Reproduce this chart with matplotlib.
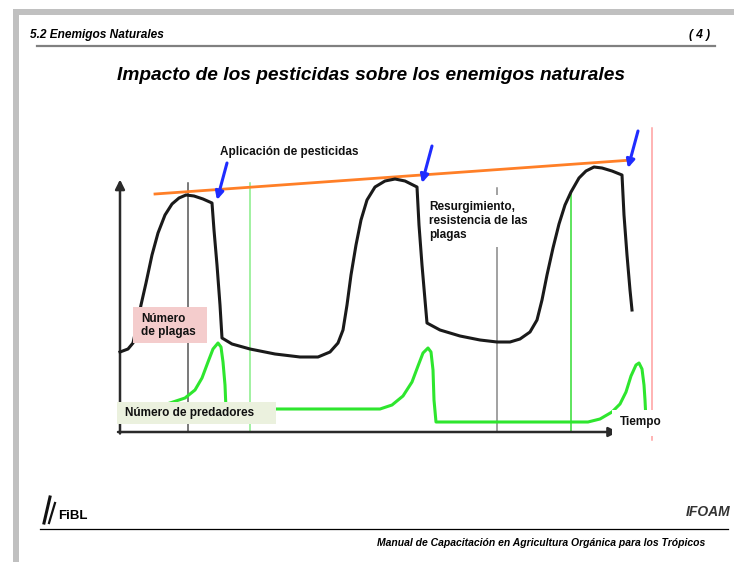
import matplotlib.pyplot as plt
from matplotlib.patches import Rectangle

plt.rcParams['font.family'] = ['Liberation Sans', 'DejaVu Sans']

# curva del numero de plagas (tiempo, numero)
plagas_t = [0, 1.6, 2.6, 3.4, 4.2, 5.2, 6.4, 7.6, 9.0, 10.4, 11.8, 13.2, 14.8, 16.6, 18.4,
            18.8, 19.4, 20.0, 20.4, 22.4, 26.0, 31.0, 36.0, 39.6, 42.0, 43.6, 44.6, 45.4,
            46.2, 47.2, 48.2, 49.4, 51.0, 53.0, 55.0, 57.0, 59.4, 59.8, 60.4, 61.0, 61.4,
            64.0, 68.0, 72.0, 75.4, 78.0, 80.0, 82.0, 83.4, 84.4, 85.4, 86.6, 87.8, 89.0,
            90.2, 91.8, 93.2, 94.8, 96.4, 98.4, 100.4, 100.8, 101.4, 102.0, 102.4]
plagas_n = [32.0, 33.2, 35.6, 42.8, 50.8, 59.6, 70.8, 79.6, 86.8, 91.2, 93.6, 94.8, 94.4, 93.2, 91.6,
            80.8, 66.8, 50.8, 37.6, 35.2, 33.2, 31.2, 30.0, 30.0, 32.0, 35.6, 40.8, 50.8,
            62.8, 74.8, 84.8, 92.8, 98.0, 100.4, 101.2, 100.4, 98.0, 82.8, 66.8, 52.8, 43.6,
            40.8, 38.4, 36.8, 36.0, 36.0, 37.2, 40.0, 44.8, 52.8, 62.8, 73.6, 83.2, 90.8,
            96.0, 101.6, 104.4, 106.0, 105.6, 104.4, 102.8, 86.8, 70.8, 56.8, 48.8]

# curva del numero de predadores
pred_t = [0, 6.0, 10.0, 13.0, 15.0, 16.4, 17.6, 18.6, 19.6, 20.2, 20.6, 21.0, 21.2,
          52.0, 54.4, 56.6, 58.4, 59.6, 60.6, 61.6, 62.2, 62.6, 62.8, 63.2,
          93.6, 96.0, 98.4, 100.0, 101.2, 102.2, 103.2, 103.8, 104.4, 104.8, 105.0, 105.2]
pred_n = [8.0, 9.2, 11.6, 13.6, 16.8, 21.6, 28.0, 33.2, 35.6, 34.0, 28.0, 18.8, 9.2,
          9.2, 10.8, 14.4, 20.0, 26.4, 31.6, 33.6, 32.0, 24.8, 12.8, 4.0,
          4.0, 5.2, 8.0, 11.2, 16.0, 22.4, 26.8, 27.6, 25.2, 18.8, 12.8, 4.8]

# aplicaciones de pesticidas y tendencia de los picos
aplic_t = [19.4, 60.4, 101.6]
aplic_n = [92.8, 99.6, 105.6]
tendencia_t = [7.0, 102.4]
tendencia_n = [95.2, 108.8]

# lineas verticales de referencia
marcas_t = [13.6, 26.0, 75.4, 90.2, 106.4]
marcas_tope = [99.6, 99.6, 97.6, 96.0, 121.6]
marcas_base = [0, 0, 0, 0, -3.2]
marcas_color = ['#555555', '#88ee88', '#888888', '#33dd33', '#ff9f9f']

W, H = 734, 562
fig = plt.figure(figsize=(W / 100, H / 100), dpi=100)

# fondo de la diapositiva en pixeles
bg = fig.add_axes([0, 0, 1, 1])
bg.set_xlim(0, W)
bg.set_ylim(H, 0)
bg.axis('off')
bg.add_patch(Rectangle((13, 9), W - 13, 6, fc='#c0c0c0', ec='none'))
bg.add_patch(Rectangle((13, 9), 6, H - 9, fc='#c0c0c0', ec='none'))
bg.plot([37, 715], [46, 46], color='#808080', lw=1.6)
bg.text(30, 35, '5.2 Enemigos Naturales', fontsize=8.6, fontweight='bold', style='italic', va='center')
bg.text(710, 35, '( 4 )', fontsize=8.6, fontweight='bold', style='italic', va='center', ha='right')
bg.text(371, 75, 'Impacto de los pesticidas sobre los enemigos naturales', fontsize=13.8,
        fontweight='bold', style='italic', ha='center', va='center')
bg.plot([40, 728], [529, 529], color='black', lw=0.9)
bg.text(705, 543, 'Manual de Capacitación en Agricultura Orgánica para los Trópicos', fontsize=7.5,
        fontweight='bold', style='italic', ha='right', va='center')
# logos
bg.plot([44, 50], [523, 497], color='#111111', lw=2.2)
bg.plot([49, 55], [523, 503], color='#111111', lw=1.6)
bg.text(58, 516, 'FiBL', fontsize=9.5, fontweight='bold', va='center')
bg.text(730, 512, 'IFOAM', fontsize=10, fontweight='bold', style='italic', va='center', ha='right',
        color='#333333')

# grafico
x0, x1, y0, y1 = 110, 670, 445, 115
cx = fig.add_axes([x0 / W, 1 - y0 / H, (x1 - x0) / W, (y0 - y1) / H])
cx.set_xlim((x0 - 120) / 5, (x1 - 120) / 5)
cx.set_ylim((432 - y0) / 2.5, (432 - y1) / 2.5)
cx.axis('off')
cx.patch.set_alpha(0)

for t, top, base, c in zip(marcas_t, marcas_tope, marcas_base, marcas_color):
    cx.plot([t, t], [base, top], color=c, lw=1.1, zorder=1)

arrow_kw = dict(arrowstyle='-|>', color='#2a2a2a', lw=1.8, mutation_scale=14, shrinkA=0, shrinkB=0)
cx.annotate('', xy=(0, 101), xytext=(0, -0.6), arrowprops=arrow_kw, zorder=3)
cx.annotate('', xy=(99.6, 0), xytext=(-0.4, 0), arrowprops=arrow_kw, zorder=3)

cx.plot(tendencia_t, tendencia_n, color='#ff7f27', lw=2.0, zorder=2)
cx.plot(plagas_t, plagas_n, color='#1a1a1a', lw=2.2, solid_joinstyle='round', zorder=3)
cx.plot(pred_t, pred_n, color='#2ee62e', lw=2.2, solid_joinstyle='round', zorder=3)

for t, n in zip(aplic_t, aplic_n):
    cx.annotate('', xy=(t, n), xytext=(t + 2.0, n + 14.8),
                arrowprops=dict(arrowstyle='-|>', color='#1f2cff', lw=2.2, mutation_scale=12,
                                shrinkA=0, shrinkB=0), zorder=4)

lab = dict(fontsize=8.5, fontweight='bold', color='#111111', va='center', zorder=6)
cx.text(20.0, 112.0, 'Aplicación de pesticidas', **lab)
cx.add_patch(Rectangle((61.0, 74.0), 21.4, 20.8, fc='white', ec='none', zorder=5))
cx.text(61.8, 84.4, 'Resurgimiento,\nresistencia de las\nplagas', linespacing=1.2, **lab)
cx.add_patch(Rectangle((2.6, 35.6), 14.8, 14.4, fc='#f4cccc', ec='none', zorder=5))
cx.text(4.2, 42.6, 'Número\nde plagas', linespacing=1.2, **lab)
cx.add_patch(Rectangle((-0.6, 3.2), 31.8, 8.8, fc='#ebf1de', ec='none', zorder=5))
cx.text(1.0, 7.6, 'Número de predadores', **lab)
cx.add_patch(Rectangle((98.4, -1.6), 11.2, 10.4, fc='white', ec='none', zorder=5))
cx.text(100.0, 4.0, 'Tiempo', **lab)

fig.savefig('out.png', dpi=100)
